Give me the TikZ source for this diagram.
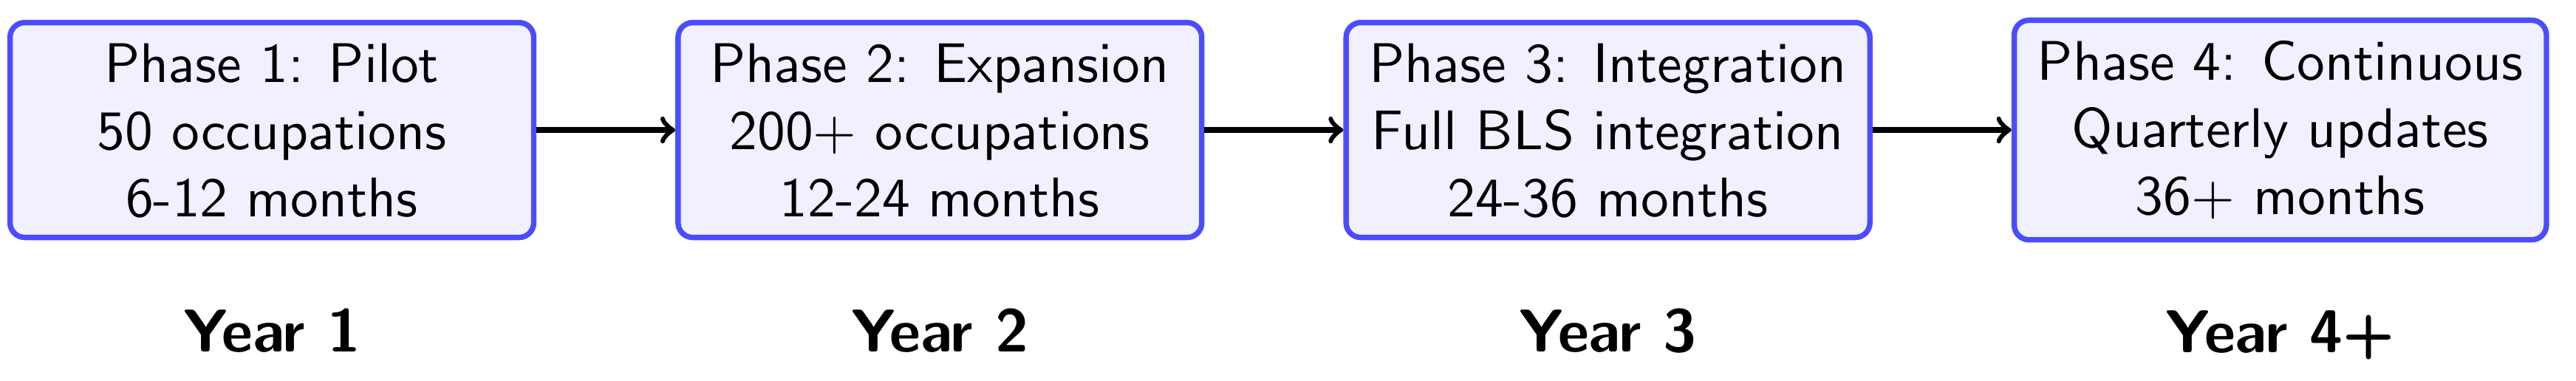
\documentclass[tikz,border=0pt]{standalone}
\usepackage{tikz}
\usetikzlibrary{positioning}
\DeclareFontFamily{OT1}{boxsans}{}
\DeclareFontShape{OT1}{boxsans}{m}{n}{<-> cmss10}{}
\tikzset{
  phasebox/.style={rounded corners=3.5pt, draw=blue!70, fill=blue!6, line width=1.3pt, align=center,
              minimum width=124.8pt, inner xsep=5.5pt, inner ysep=5pt,
              font={\fontencoding{OT1}\fontfamily{boxsans}\fontsize{13.3}{16}\selectfont}},
  yearlabel/.style={font=\sffamily\bfseries\Large},
  arrow/.style={->, line width=1.3pt, draw=black}
}
\begin{document}
\begin{tikzpicture}[node distance=33.1pt]
\useasboundingbox (-64.8pt,-59.7pt) rectangle (549.1pt,31.0pt);
\node[phasebox] (p1) {Phase 1: Pilot\\50 occupations\\6-12 months};
\node[phasebox, right=of p1] (p2) {Phase 2: Expansion\\200+ occupations\\12-24 months};
\node[phasebox, right=of p2] (p3) {Phase 3: Integration\\Full BLS integration\\24-36 months};
\node[phasebox, right=of p3] (p4) {Phase 4: Continuous\\Quarterly updates\\36+ months};
\node[yearlabel, below=12.7pt of p1] (y1) {Year 1};
\node[yearlabel, below=12.7pt of p2] (y2) {Year 2};
\node[yearlabel, below=12.7pt of p3] (y3) {Year 3};
\node[yearlabel, below=12.7pt of p4] (y4) {Year 4+};
\draw[arrow] (p1) -- (p2);
\draw[arrow] (p2) -- (p3);
\draw[arrow] (p3) -- (p4);
\end{tikzpicture}
\end{document}
